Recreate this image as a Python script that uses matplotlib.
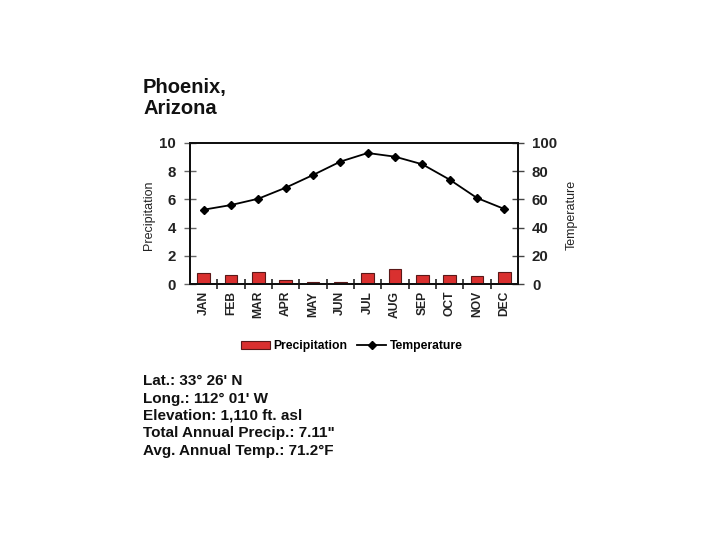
import matplotlib
matplotlib.use("Agg")
import matplotlib.pyplot as plt
import numpy as np

plt.rcParams['font.family'] = ['Liberation Sans', 'DejaVu Sans']

months = ["JAN", "FEB", "MAR", "APR", "MAY", "JUN",
          "JUL", "AUG", "SEP", "OCT", "NOV", "DEC"]
precip = [0.78, 0.64, 0.85, 0.31, 0.17, 0.17, 0.78, 1.04, 0.64, 0.64, 0.59, 0.85]
temp = [52.7, 56.0, 60.5, 68.3, 77.3, 86.8, 92.9, 90.3, 84.9, 74.0, 61.0, 53.2]

title_lines = ["Phoenix,", "Arizona"]
info_lines = ["Lat.: 33\u00b0 26' N",
              "Long.: 112\u00b0 01' W",
              "Elevation: 1,110 ft. asl",
              'Total Annual Precip.: 7.11"',
              "Avg. Annual Temp.: 71.2\u00b0F"]

fig = plt.figure(figsize=(7.2, 5.4), dpi=100)
ax = fig.add_axes([190 / 720, 1 - 284 / 540, 328 / 720, 141 / 540])
ax2 = ax.twinx()

x = np.arange(len(months))
bars = ax.bar(x, precip, width=0.46, color="#d9302f", edgecolor="#5a1818",
              linewidth=0.8, label="Precipitation", zorder=2)
line, = ax2.plot(x, temp, color="black", lw=1.3, marker="D", ms=4.5,
                 label="Temperature", zorder=3)

ax.set_xlim(-0.5, 11.5)
ax.set_ylim(0, 10)
ax2.set_ylim(0, 100)
ax.set_yticks([0, 2, 4, 6, 8, 10])
ax2.set_yticks([0, 20, 40, 60, 80, 100])

ax.set_xticks(x)
ax.set_xticklabels(months, rotation=90, fontsize=8.7, fontweight="bold", color="#222222")
ax.tick_params(axis="x", which="major", length=0, pad=5)
ax.set_xticks(np.arange(0.5, 11.5, 1), minor=True)
ax.tick_params(axis="x", which="minor", direction="inout", length=7, width=1.2, color="#222222")

ax.tick_params(axis="y", direction="inout", length=8, width=1, color="#666666", pad=6,
               labelsize=10.8, labelcolor="#222222")
ax2.tick_params(axis="y", direction="inout", length=8, width=1, color="#444444", pad=6,
                labelsize=10.8, labelcolor="#222222")
for lab in ax.get_yticklabels() + ax2.get_yticklabels():
    lab.set_fontweight("bold")

for a in (ax, ax2):
    for s in a.spines.values():
        s.set_linewidth(1.4)
        s.set_color("#111111")

fig.text(149 / 720, 1 - 215 / 540, "Precipitation", rotation=90, ha="center", va="center",
         fontsize=9, color="#222222")
fig.text(572 / 720, 1 - 215 / 540, "Temperature", rotation=90, ha="center", va="center",
         fontsize=9, color="#222222")

fig.text(143 / 720, 1 - 88 / 540, title_lines[0], fontsize=14.5, fontweight="bold",
         va="center", ha="left", color="#111111")
fig.text(143 / 720, 1 - 108 / 540, title_lines[1], fontsize=14.5, fontweight="bold",
         va="center", ha="left", color="#111111")

for i, t in enumerate(info_lines):
    fig.text(143 / 720, 1 - (381 + 17.5 * i) / 540, t, fontsize=11, fontweight="bold",
             va="center", ha="left", color="#111111")

fig.legend([bars, line], ["Precipitation", "Temperature"], loc="center",
           bbox_to_anchor=(352 / 720, 1 - 346 / 540), ncol=2, frameon=False,
           prop={"size": 8.7, "weight": "bold"}, handlelength=2.4, handleheight=0.7,
           handletextpad=0.3, columnspacing=0.8)

fig.savefig("out.png", dpi=100)
